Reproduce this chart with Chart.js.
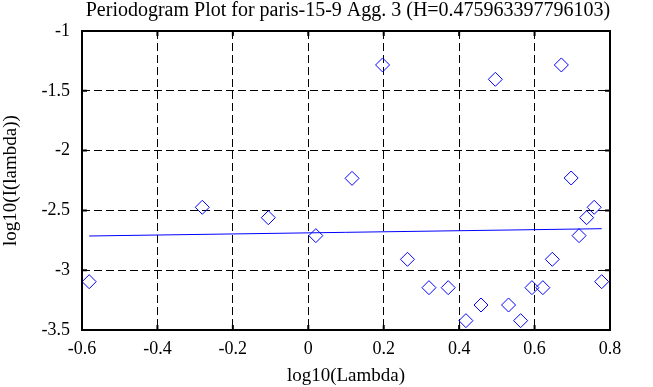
<!DOCTYPE html>
<html>
<head>
<meta charset="utf-8">
<script src="https://cdn.jsdelivr.net/npm/chart.js@4"></script>
<style>
  html, body { margin: 0; padding: 0; background: #fff; }
  #wrap { width: 653px; height: 387px; }
</style>
</head>
<body>
<div id="wrap"><canvas id="c" width="653" height="387"></canvas></div>
<script>
const chartTitle = 'Periodogram Plot for paris-15-9 Agg. 3 (H=0.475963397796103)';
const xAxisTitle = 'log10(Lambda)';
const yAxisTitle = 'log10(I(lambda))';

const logLambda = [-0.581, -0.281, -0.106, 0.020, 0.116, 0.197, 0.263, 0.320, 0.371, 0.418, 0.458, 0.496,
                   0.531, 0.563, 0.593, 0.622, 0.647, 0.671, 0.697, 0.718, 0.738, 0.758, 0.778];
const logI = [-3.096, -2.474, -2.561, -2.711, -2.232, -1.284, -2.909, -3.146, -3.146, -3.422, -3.291, -1.404,
              -3.291, -3.422, -3.146, -3.146, -2.909, -1.284, -2.229, -2.711, -2.561, -2.474, -3.096];

const fitX = [-0.581, 0.778];
const fitY = [-2.714, -2.653];

const xTickValues = [-0.6, -0.4, -0.2, 0, 0.2, 0.4, 0.6, 0.8];
const xTickLabels = ['-0.6', '-0.4', '-0.2', '0', '0.2', '0.4', '0.6', '0.8'];
const yTickValues = [-3.5, -3, -2.5, -2, -1.5, -1];
const yTickLabels = ['-3.5', '-3', '-2.5', '-2', '-1.5', '-1'];

const FONT = "'Liberation Serif', 'Times New Roman', serif";
const BLUE = '#0000ff';

const framePlugin = {
  id: 'frame',
  afterDraw(chart) {
    const {ctx, chartArea: a, scales} = chart;
    ctx.save();
    ctx.strokeStyle = '#000';
    ctx.lineWidth = 2;
    ctx.strokeRect(a.left, a.top, a.right - a.left, a.bottom - a.top);
    const len = 5;
    ctx.beginPath();
    xTickValues.forEach(v => {
      const px = scales.x.getPixelForValue(v);
      ctx.moveTo(px, a.top); ctx.lineTo(px, a.top + len);
      ctx.moveTo(px, a.bottom); ctx.lineTo(px, a.bottom - len);
    });
    yTickValues.forEach(v => {
      const py = scales.y.getPixelForValue(v);
      ctx.moveTo(a.left, py); ctx.lineTo(a.left + len, py);
      ctx.moveTo(a.right, py); ctx.lineTo(a.right - len, py);
    });
    ctx.stroke();
    // chart title centred over the plot area
    ctx.fillStyle = '#000';
    ctx.font = '20px ' + FONT;
    ctx.textAlign = 'center';
    ctx.textBaseline = 'middle';
    ctx.fillText(chartTitle, (a.left + a.right) / 2 + 2, 11);
    ctx.restore();
  }
};

new Chart(document.getElementById('c'), {
  type: 'scatter',
  data: {
    datasets: [
      {
        label: 'periodogram',
        data: logLambda.map((x, i) => ({x, y: logI[i]})),
        pointStyle: 'rectRot',
        pointRadius: 7,
        pointHoverRadius: 7,
        borderColor: BLUE,
        backgroundColor: 'rgba(0,0,0,0)',
        borderWidth: 1,
        showLine: false
      },
      {
        label: 'fit',
        data: fitX.map((x, i) => ({x, y: fitY[i]})),
        showLine: true,
        pointRadius: 0,
        borderColor: BLUE,
        borderWidth: 1,
        fill: false
      }
    ]
  },
  options: {
    responsive: false,
    animation: false,
    layout: { padding: { left: 0, right: 43, top: 31, bottom: 0 } },
    plugins: {
      legend: { display: false },
      tooltip: { enabled: false },
      title: { display: false }
    },
    scales: {
      x: {
        type: 'linear',
        min: -0.6, max: 0.8,
        afterBuildTicks: s => { s.ticks = xTickValues.map(v => ({value: v})); },
        afterFit: s => { s.height = 57; },
        ticks: {
          callback: (v, i) => xTickLabels[i],
          color: '#000',
          font: { family: FONT, size: 18 },
          padding: 8,
          maxRotation: 0,
          autoSkip: false
        },
        grid: { color: '#000', lineWidth: 1, drawTicks: false },
        border: { display: false, dash: [8, 4] },
        title: {
          display: true, text: xAxisTitle, color: '#000',
          font: { family: FONT, size: 19, lineHeight: 1.2 },
          padding: { top: 0, bottom: 0 }
        }
      },
      y: {
        type: 'linear',
        min: -3.5, max: -1,
        afterBuildTicks: s => { s.ticks = yTickValues.map(v => ({value: v})); },
        afterFit: s => { s.width = 82; },
        ticks: {
          callback: (v, i) => yTickLabels[i],
          color: '#000',
          font: { family: FONT, size: 18 },
          padding: 12,
          autoSkip: false
        },
        grid: { color: '#000', lineWidth: 1, drawTicks: false },
        border: { display: false, dash: [8, 4] },
        title: {
          display: true, text: yAxisTitle, color: '#000',
          font: { family: FONT, size: 19, lineHeight: 1.2 },
          padding: { top: 0, bottom: 0 }
        }
      }
    }
  },
  plugins: [framePlugin]
});
</script>
</body>
</html>
